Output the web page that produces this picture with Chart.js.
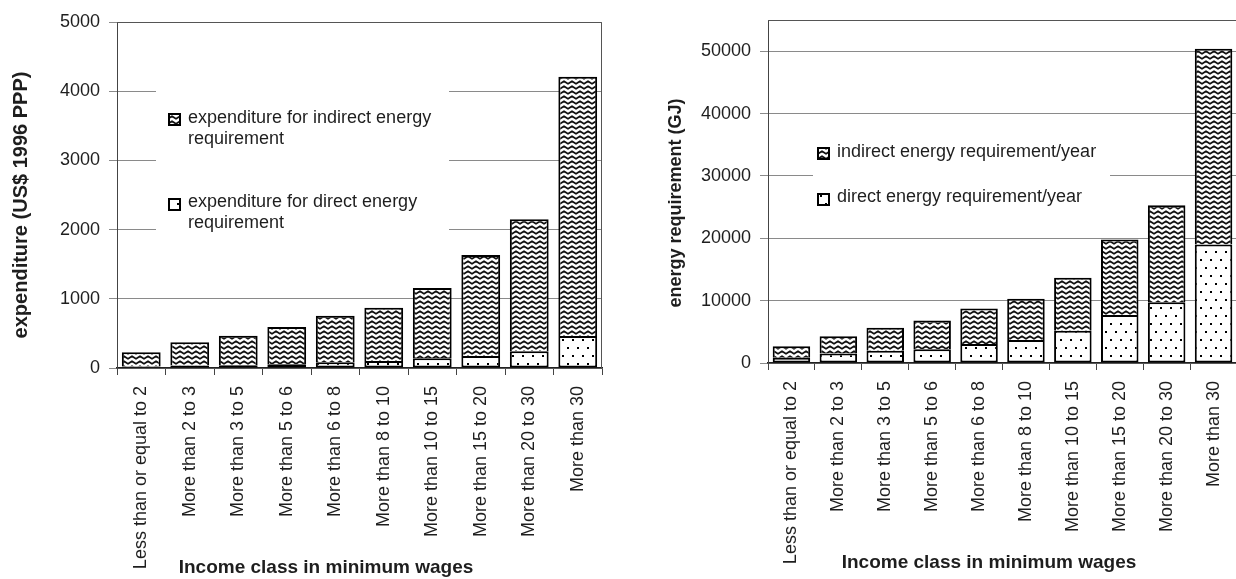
<!DOCTYPE html>
<html><head><meta charset="utf-8">
<script src="https://cdn.jsdelivr.net/npm/chart.js@4.4.1/dist/chart.umd.min.js"></script>
<style>
html,body{margin:0;padding:0;background:#fff;overflow:hidden;width:1236px;height:579px;}
#c1{position:absolute;left:0;top:0;}
#c2{position:absolute;left:618px;top:0;}
</style></head><body>
<canvas id="c1" width="618" height="579"></canvas>
<canvas id="c2" width="620" height="579"></canvas>
<script>
// ---- data ----
const categories = ["Less than or equal to 2","More than 2 to 3","More than 3 to 5","More than 5 to 6","More than 6 to 8","More than 8 to 10","More than 10 to 15","More than 15 to 20","More than 20 to 30","More than 30"];
const expenditureDirect   = [20, 35, 40, 55, 82, 101, 140, 173, 241, 462];
const expenditureIndirect = [207, 336, 427, 537, 674, 771, 1016, 1460, 1908, 3748];
const energyDirect   = [850, 1520, 1950, 2200, 3050, 3690, 5180, 7700, 9730, 18990];
const energyIndirect = [1850, 2780, 3700, 4620, 5700, 6610, 8490, 12090, 15570, 31410];
const expenditureTicks = [0, 1000, 2000, 3000, 4000, 5000];
const energyTicks = [0, 10000, 20000, 30000, 40000, 50000];
const expenditureMax = 5000;
const energyMax = 55000;

const FONT = "'Liberation Sans', Arial, sans-serif";
const TXT = '#1e1e1e';

function zigzagPattern() {
  const c = document.createElement('canvas'); c.width = 8; c.height = 5;
  const g = c.getContext('2d');
  g.fillStyle = '#fff'; g.fillRect(0, 0, 8, 5);
  g.strokeStyle = '#111'; g.lineWidth = 1.7; g.lineJoin = 'round';
  g.beginPath();
  g.moveTo(-4, 1.2); g.lineTo(0, 3.8); g.lineTo(4, 1.2); g.lineTo(8, 3.8); g.lineTo(12, 1.2);
  g.stroke();
  return g.createPattern(c, 'repeat');
}
function dotPattern() {
  const c = document.createElement('canvas'); c.width = 10; c.height = 16;
  const g = c.getContext('2d');
  g.fillStyle = '#fff'; g.fillRect(0, 0, 10, 16);
  g.fillStyle = '#000';
  g.fillRect(2, 3, 2, 2);
  g.fillRect(7, 11, 2, 2);
  return g.createPattern(c, 'repeat');
}
const ZIG = zigzagPattern();
const DOT = dotPattern();

const boxLegend = {
  id: 'boxLegend',
  beforeDatasetsDraw(chart, args, o) {
    const ctx = chart.ctx;
    ctx.save();
    ctx.fillStyle = '#fff';
    ctx.fillRect(o.box[0], o.box[1], o.box[2], o.box[3]);
    ctx.font = '18px ' + FONT;
    ctx.textBaseline = 'alphabetic';
    ctx.textAlign = 'left';
    o.items.forEach(it => {
      ctx.fillStyle = it.fill;
      ctx.fillRect(o.markerX, it.markerY, 13, 13);
      ctx.strokeStyle = '#000'; ctx.lineWidth = 2;
      ctx.strokeRect(o.markerX + 1, it.markerY + 1, 11, 11);
      ctx.fillStyle = TXT;
      it.lines.forEach((ln, i) => ctx.fillText(ln, o.textX, it.baseline + i * o.lineHeight));
    });
    const a = chart.chartArea;
    ctx.strokeStyle = '#555'; ctx.lineWidth = 1;
    ctx.beginPath();
    ctx.moveTo(a.left, a.top + 0.5); ctx.lineTo(a.right - 0.5, a.top + 0.5); ctx.lineTo(a.right - 0.5, a.bottom);
    ctx.stroke();
    ctx.restore();
  },
  afterDraw(chart, args, o) {
    const ctx = chart.ctx;
    ctx.save();
    ctx.fillStyle = TXT;
    ctx.font = 'bold ' + o.xTitle.size + 'px ' + FONT;
    ctx.textAlign = 'center'; ctx.textBaseline = 'alphabetic';
    ctx.fillText(o.xTitle.text, o.xTitle.x, o.xTitle.y);
    ctx.translate(o.yTitle.x, o.yTitle.y);
    ctx.rotate(-Math.PI / 2);
    ctx.font = 'bold ' + o.yTitle.size + 'px ' + FONT;
    ctx.textBaseline = 'middle';
    ctx.fillText(o.yTitle.text, 0, 0);
    ctx.restore();
  }
};

function makeChart(id, c) {
  return new Chart(document.getElementById(id), {
    type: 'bar',
    data: {
      labels: categories,
      datasets: [
        { label: c.directLabel, data: c.direct, backgroundColor: DOT, borderColor: '#000', borderWidth: 2, borderSkipped: false, barPercentage: 0.8, categoryPercentage: 1 },
        { label: c.indirectLabel, data: c.indirect, backgroundColor: ZIG, borderColor: '#000', borderWidth: 2, borderSkipped: 'start', barPercentage: 0.8, categoryPercentage: 1 }
      ]
    },
    options: {
      responsive: false, animation: false, devicePixelRatio: 1,
      layout: { padding: { left: 0, top: c.top, right: c.right, bottom: 0 } },
      plugins: { legend: { display: false }, tooltip: { enabled: false }, boxLegend: c.legend },
      scales: {
        x: {
          stacked: true,
          grid: { display: true, drawOnChartArea: false, drawTicks: true, tickLength: 7, color: '#444', offset: true },
          border: { color: '#222', width: 1.5 },
          ticks: { minRotation: 90, maxRotation: 90, autoSkip: false, padding: 11, color: TXT, font: { family: FONT, size: 18 } },
          afterFit: s => { s.height = c.xh; s.paddingLeft = 0; s.paddingRight = 0; }
        },
        y: {
          stacked: true, min: 0, max: c.max,
          afterBuildTicks: s => { s.ticks = c.ticks.map(v => ({ value: v })); },
          grid: { color: '#8a8a8a', tickLength: 8, lineWidth: 1 },
          border: { color: '#444', width: 1 },
          ticks: { padding: 9, color: TXT, font: { family: FONT, size: 18 }, callback: v => String(v) },
          afterFit: s => { s.width = c.yw; s.paddingTop = 0; s.paddingBottom = 0; }
        }
      }
    },
    plugins: [boxLegend]
  });
}

makeChart('c1', {
  direct: expenditureDirect, indirect: expenditureIndirect,
  directLabel: 'expenditure for direct energy requirement',
  indirectLabel: 'expenditure for indirect energy requirement',
  max: expenditureMax, ticks: expenditureTicks,
  top: 22, right: 16, yw: 117, xh: 211,
  legend: {
    box: [156, 78, 293, 172], markerX: 168, textX: 188, lineHeight: 21,
    items: [
      { fill: ZIG, markerY: 113, baseline: 123, lines: ['expenditure for indirect energy', 'requirement'] },
      { fill: DOT, markerY: 198, baseline: 207, lines: ['expenditure for direct energy', 'requirement'] }
    ],
    xTitle: { text: 'Income class in minimum wages', x: 326, y: 573, size: 19 },
    yTitle: { text: 'expenditure (US$ 1996 PPP)', x: 21, y: 205, size: 20 }
  }
});

makeChart('c2', {
  direct: energyDirect, indirect: energyIndirect,
  directLabel: 'direct energy requirement/year',
  indirectLabel: 'indirect energy requirement/year',
  max: energyMax, ticks: energyTicks,
  top: 20, right: 1, yw: 150, xh: 216,
  legend: {
    box: [195, 120, 297, 110], markerX: 199, textX: 219, lineHeight: 22,
    items: [
      { fill: ZIG, markerY: 147, baseline: 157, lines: ['indirect energy requirement/year'] },
      { fill: DOT, markerY: 193, baseline: 202, lines: ['direct energy requirement/year'] }
    ],
    xTitle: { text: 'Income class in minimum wages', x: 371, y: 568, size: 19 },
    yTitle: { text: 'energy requirement (GJ)', x: 58, y: 203, size: 18 }
  }
});
</script>
</body></html>
